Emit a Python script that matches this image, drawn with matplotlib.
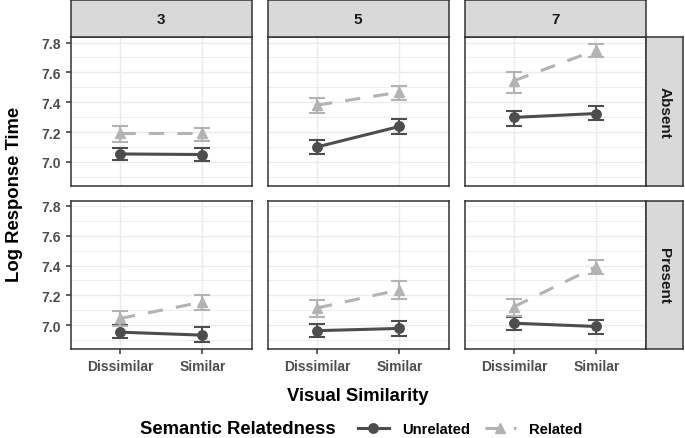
import numpy as np
import matplotlib
matplotlib.use('Agg')
import matplotlib.pyplot as plt
from matplotlib.lines import Line2D

# data
visual = ['Dissimilar', 'Similar']
set_sizes = ['3', '5', '7']
targets = ['Absent', 'Present']

unrel_mean = {'Absent': [[7.053, 7.049], [7.100, 7.237], [7.298, 7.324]],
              'Present': [[6.953, 6.933], [6.963, 6.978], [7.013, 6.991]]}
unrel_lo = {'Absent': [[7.009, 7.003], [7.055, 7.189], [7.242, 7.278]],
            'Present': [[6.911, 6.889], [6.920, 6.927], [6.968, 6.940]]}
unrel_hi = {'Absent': [[7.093, 7.090], [7.145, 7.289], [7.342, 7.373]],
            'Present': [[6.998, 6.987], [7.009, 7.027], [7.058, 7.037]]}

rel_mean = {'Absent': [[7.190, 7.190], [7.380, 7.467], [7.544, 7.750]],
            'Present': [[7.045, 7.155], [7.115, 7.237], [7.124, 7.393]]}
rel_lo = {'Absent': [[7.135, 7.140], [7.330, 7.417], [7.464, 7.704]],
          'Present': [[6.993, 7.104], [7.053, 7.177], [7.060, 7.342]]}
rel_hi = {'Absent': [[7.237, 7.230], [7.430, 7.507], [7.604, 7.789]],
          'Present': [[7.093, 7.204], [7.171, 7.293], [7.175, 7.437]]}

yticks = [7.0, 7.2, 7.4, 7.6, 7.8]

plt.rcParams['font.family'] = ['Liberation Sans', 'DejaVu Sans']
plt.rcParams['font.weight'] = 'bold'

W, H = 685, 439
fig = plt.figure(figsize=(W / 100, H / 100), dpi=100)

def box(x0, y0, x1, y1):
    # pixel box (top-left origin) -> figure fraction rect
    return [x0 / W, 1 - y1 / H, (x1 - x0) / W, (y1 - y0) / H]

col_x = [70.7, 267.7, 464.7]
col_w = 181.0
row_y = [(38.3, 186.7), (201.7, 350.0)]
c_unrel = '#4D4D4D'
c_rel = '#B3B3B3'
border = '#333333'
dash = (5, 4.3)

for r, tgt in enumerate(targets):
    for c, ss in enumerate(set_sizes):
        ax = fig.add_axes(box(col_x[c], row_y[r][0], col_x[c] + col_w, row_y[r][1]))
        ax.set_xlim(0.4, 2.6)
        ax.set_ylim(6.84, 7.835)
        ax.set_yticks(yticks)
        ax.set_yticks(np.arange(6.9, 7.85, 0.2), minor=True)
        ax.set_xticks([1, 2])
        ax.grid(True, which='major', color='#EBEBEB', lw=1.0)
        ax.grid(True, which='minor', axis='y', color='#EBEBEB', lw=0.6)
        ax.set_axisbelow(True)
        for s in ax.spines.values():
            s.set_color(border)
            s.set_linewidth(1.1)
        ax.tick_params(which='minor', length=0)
        ax.tick_params(which='major', color=border, width=1.1, length=3.5,
                       labelcolor='#4D4D4D', labelsize=10)
        if c == 0:
            ax.set_yticklabels(['%.1f' % v for v in yticks], fontweight='bold')
        else:
            ax.tick_params(axis='y', length=0, labelleft=False)
        if r == 1:
            ax.set_xticklabels(visual, fontweight='bold')
        else:
            ax.tick_params(axis='x', length=0, labelbottom=False)

        x = np.arange(1, 3)
        for mean, lo, hi, col, mk, ls in [
                (unrel_mean, unrel_lo, unrel_hi, c_unrel, 'o', '-'),
                (rel_mean, rel_lo, rel_hi, c_rel, '^', '--')]:
            m = np.array(mean[tgt][c])
            yerr = [m - np.array(lo[tgt][c]), np.array(hi[tgt][c]) - m]
            ax.errorbar(x, m, yerr=yerr, fmt='none', ecolor=col, elinewidth=1.5,
                        capsize=5.8, capthick=1.5, zorder=3)
            line, = ax.plot(x, m, color=col, lw=2.2, marker=mk, ms=6.8,
                            linestyle=ls, zorder=4)
            if ls == '--':
                line.set_dashes(dash)

        if r == 0:
            sax = fig.add_axes(box(col_x[c], 1.0, col_x[c] + col_w, row_y[0][0]))
            sax.set_facecolor('#D9D9D9')
            sax.set_xticks([]); sax.set_yticks([])
            for s in sax.spines.values():
                s.set_color(border); s.set_linewidth(1.1)
            sax.text(0.5, 0.5, ss, ha='center', va='center', fontsize=11,
                     fontweight='bold', color='#1A1A1A', transform=sax.transAxes)
    rax = fig.add_axes(box(645.7, row_y[r][0], 683.0, row_y[r][1]))
    rax.set_facecolor('#D9D9D9')
    rax.set_xticks([]); rax.set_yticks([])
    for s in rax.spines.values():
        s.set_color(border); s.set_linewidth(1.1)
    rax.text(0.5, 0.5, tgt, ha='center', va='center', rotation=-90, fontsize=11,
             fontweight='bold', color='#1A1A1A', transform=rax.transAxes)

fig.text(15 / W, 1 - 194 / H, 'Log Response Time', rotation=90, ha='center',
         va='center', fontsize=13.3, fontweight='bold')
fig.text(358 / W, 1 - 397 / H, 'Visual Similarity', ha='center', va='center',
         fontsize=13.3, fontweight='bold')
fig.text(140 / W, 1 - 430 / H, 'Semantic Relatedness', ha='left', va='center',
         fontsize=13.3, fontweight='bold')

handles = [Line2D([], [], color=c_unrel, lw=2.2, marker='o', ms=6.8),
           Line2D([], [], color=c_rel, lw=2.2, marker='^', ms=6.8, dashes=dash)]
fig.legend(handles, ['Unrelated', 'Related'], loc='center left',
           bbox_to_anchor=(352 / W, 1 - 430 / H), ncol=2, frameon=False,
           prop={'size': 10.6, 'weight': 'bold'}, handlelength=2.1,
           handletextpad=0.9, columnspacing=1.0, borderaxespad=0)

fig.savefig('out.png', dpi=100)
